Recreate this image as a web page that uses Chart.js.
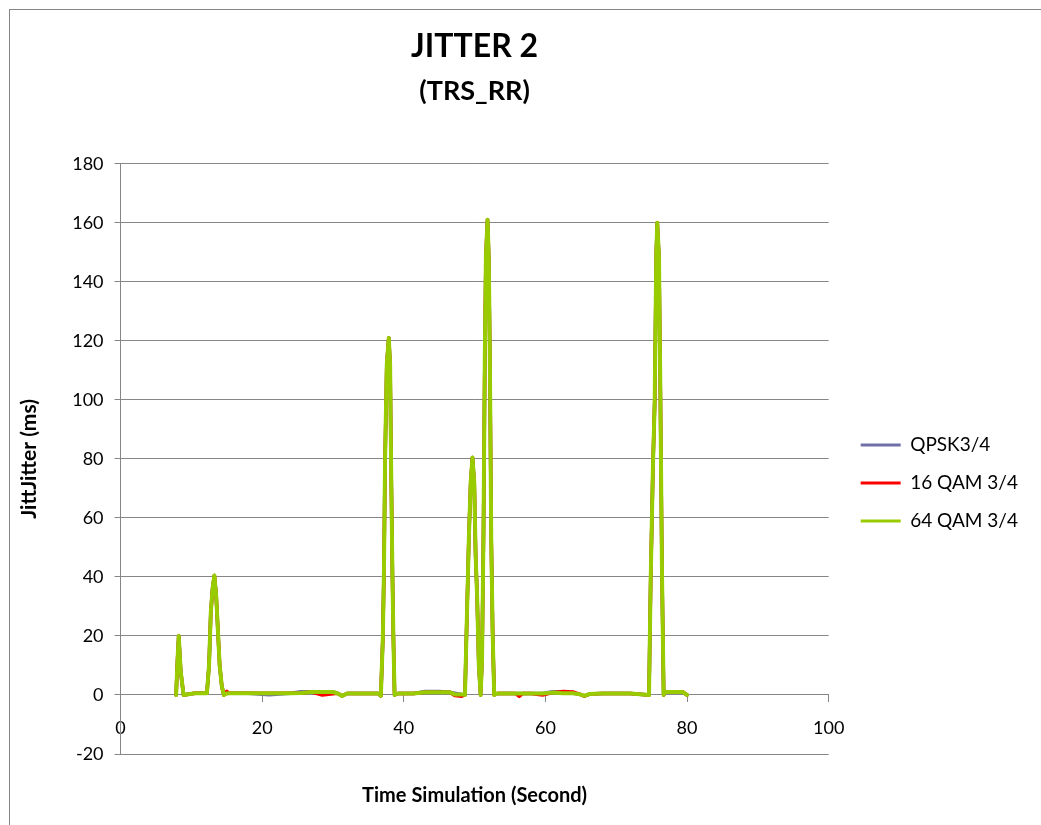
<!DOCTYPE html>
<html><head><meta charset="utf-8">
<script src="https://cdn.jsdelivr.net/npm/chart.js@4.4.0/dist/chart.umd.min.js"></script>
<style>
html,body{margin:0;padding:0;background:#fff;overflow:hidden;width:1041px;height:825px;}
#frame{position:absolute;left:9px;top:9px;width:1100px;height:900px;border:1px solid #858585;box-sizing:border-box;}
#c{position:absolute;left:0;top:0;}
</style></head><body>
<div id="frame"></div>
<canvas id="c" width="1041" height="825"></canvas>
<script>
const titleText = 'JITTER 2';
const subtitleText = '(TRS_RR)';
const xTitle = 'Time Simulation (Second)';
const yTitle = 'JittJitter (ms)';
const seriesNames = ['QPSK3/4', '16 QAM 3/4', '64 QAM 3/4'];
const seriesColors = ['#6f70a6', '#ff0000', '#99cc00'];

const xTickValues = [0, 20, 40, 60, 80, 100];
const yTickValues = [-20, 0, 20, 40, 60, 80, 100, 120, 140, 160, 180];

const times = [7.85, 8.05, 8.22, 8.5, 8.9, 10.5, 12.2, 12.5, 12.75, 13.0,
  13.25, 13.5, 13.75, 14.0, 14.3, 14.6, 15.0, 15.4, 18, 21,
  24, 25.5, 27, 28.5, 30, 30.6, 31.3, 32, 34, 36.4,
  36.76, 37.04, 37.2, 37.36, 37.6, 37.88, 38.07, 38.2, 38.39, 38.53,
  38.7, 39.2, 41.4, 43, 45, 46.5, 47.2, 48.2, 48.64, 48.95,
  49.2, 49.45, 49.7, 49.95, 50.15, 50.35, 50.6, 50.85, 51.05, 51.25,
  51.45, 51.6, 51.83, 52.0, 52.15, 52.35, 52.55, 52.77, 53.2, 55.8,
  56.3, 56.8, 58, 59.6, 61, 62.5, 63.9, 64.9, 65.5, 66.2,
  68, 72, 74.63, 74.86, 75.19, 75.43, 75.66, 75.8, 76.04, 76.23,
  76.46, 76.7, 76.9, 79.4, 80.0];

const qpsk = [0, 12, 20, 8, 0, 0.6, 0.6, 10, 28, 36,
  40.5, 34, 22, 10, 3, 0, 1.0, 0.6, 0.6, 0.1,
  0.6, 1.1, 1.1, 1.0, 1.0, 0.6, -0.3, 0.5, 0.5, 0.5,
  -0.3, 19, 42, 80, 112, 121, 112, 80, 42, 20,
  0, 0.5, 0.5, 1.2, 1.2, 0.9, 0.6, 0.2, 0, 30,
  54, 72, 80.5, 72, 47, 34, 10, 0, 12, 53,
  116, 149, 161, 148, 116, 53, 21, 0, 0.5, 0.5,
  0.5, 0.5, 0.5, 0.5, 1.1, 1.1, 0.6, 0.2, -0.3, 0.3,
  0.5, 0.5, 0, 38, 78, 99, 150, 160, 148, 103,
  42, 0, 1, 1, 0];

const qam16 = [0, 12, 20, 8, 0, 0.6, 0.6, 10, 28, 36,
  40.5, 34, 22, 10, 3, 0, 1.2, 0.6, 0.6, 0.6,
  0.6, 0.7, 1.0, 0.0, 0.4, 0.6, -0.3, 0.5, 0.5, 0.5,
  -0.3, 19, 42, 80, 112, 121, 112, 80, 42, 20,
  0, 0.5, 0.5, 0.9, 0.9, 0.9, -0.2, -0.4, 0, 30,
  54, 72, 80.5, 72, 47, 34, 10, 0, 12, 53,
  116, 149, 161, 148, 116, 53, 21, 0, 0.5, 0.5,
  -0.5, 0.5, 0.5, 0.0, 0.8, 1.2, 1.0, 0.2, -0.4, 0.3,
  0.5, 0.5, 0, 38, 78, 99, 150, 160, 148, 103,
  42, 0, 1, 1, 0];

const qam64 = [0, 12, 20, 8, 0, 0.6, 0.6, 10, 28, 36,
  40.5, 34, 22, 10, 3, 0, 0.5, 0.6, 0.6, 0.6,
  0.6, 0.7, 1.0, 1.0, 1.0, 0.6, -0.3, 0.5, 0.5, 0.5,
  -0.3, 19, 42, 80, 112, 121, 112, 80, 42, 20,
  0, 0.5, 0.5, 0.9, 0.9, 0.9, 0.2, 0.2, 0, 30,
  54, 72, 80.5, 72, 47, 34, 10, 0, 12, 53,
  116, 149, 161, 148, 116, 53, 21, 0, 0.5, 0.5,
  0.5, 0.5, 0.5, 0.5, 0.8, 0.6, 0.6, 0.2, -0.3, 0.3,
  0.5, 0.5, 0, 38, 78, 99, 150, 160, 148, 103,
  42, 0, 1, 1, 0];

const seriesValues = [qpsk, qam16, qam64];
const lineWidths = [3.5, 3.5, 4];
const legendLineWidth = 3;
const drawOrder = [2, 1, 0];

Chart.defaults.font.family = 'Lato, "Open Sans", sans-serif';
Chart.defaults.color = '#000';

const gridColor = '#868686';

// widen the legend box a little so its labels are not clipped
const legendWiden = {
  id: 'legendWiden',
  beforeLayout(chart) {
    const lg = chart.legend;
    if (lg && !lg._widened) {
      const origFit = lg.fit.bind(lg);
      lg.fit = function () { origFit(); this.width += 10; };
      lg._widened = true;
    }
  }
};

function build() {
  const datasets = seriesNames.map((name, i) => ({
    label: name,
    data: times.map((t, k) => ({x: t, y: seriesValues[i][k]})),
    borderColor: seriesColors[i],
    backgroundColor: seriesColors[i],
    borderWidth: lineWidths[i],
    pointRadius: 0,
    pointHoverRadius: 0,
    tension: 0,
    fill: false,
    borderJoinStyle: 'round',
    borderCapStyle: 'round',
    order: drawOrder[i]
  }));

  new Chart(document.getElementById('c'), {
    type: 'line',
    data: { datasets },
    plugins: [legendWiden],
    options: {
      responsive: false,
      animation: false,
      events: [],
      layout: { padding: { left: 10, right: 21, top: 0, bottom: 71 } },
      plugins: {
        title: {
          display: true, text: titleText, fullSize: false,
          font: { size: 32, weight: 'bold' }, color: '#000',
          padding: { top: 27, bottom: 0 }
        },
        subtitle: {
          display: true, text: subtitleText, fullSize: false,
          font: { size: 27, weight: 'bold' }, color: '#000',
          padding: { top: 10, bottom: 56 }
        },
        legend: {
          position: 'right', fullSize: false, align: 'center',
          title: { display: true, text: ' ', font: { size: 10 }, padding: { top: 36, bottom: 0 } },
          labels: {
            usePointStyle: true, pointStyle: 'line', pointStyleWidth: 40,
            padding: 19, font: { size: 19 }, color: '#000',
            sort: (a, b) => a.datasetIndex - b.datasetIndex,
            generateLabels: chart => Chart.defaults.plugins.legend.labels.generateLabels(chart)
              .map(item => Object.assign(item, { lineWidth: legendLineWidth }))
          }
        },
        tooltip: { enabled: false }
      },
      scales: {
        x: {
          type: 'linear', min: 0, max: 100,
          position: { y: 0 },
          afterBuildTicks: axis => { axis.ticks = xTickValues.map(v => ({ value: v })); },
          grid: { display: true, drawOnChartArea: false, drawTicks: true, tickLength: 7, color: gridColor },
          border: { display: true, color: gridColor, width: 1 },
          ticks: { font: { size: 18 }, color: '#000', padding: 15, maxRotation: 0 },
          title: { display: true, text: xTitle, font: { size: 20, weight: 'bold' }, color: '#000', padding: { top: 30, bottom: 0 } }
        },
        y: {
          type: 'linear', min: -20, max: 180,
          position: 'left',
          afterBuildTicks: axis => { axis.ticks = yTickValues.map(v => ({ value: v })); },
          grid: { display: true, drawOnChartArea: true, drawTicks: true, tickLength: 6, color: gridColor },
          border: { display: true, color: gridColor, width: 1 },
          ticks: { font: { size: 18 }, color: '#000', padding: 11 },
          title: { display: true, text: yTitle, font: { size: 21, weight: 'bold' }, color: '#000', padding: { top: 7, bottom: 19 } }
        },
        spacer: {
          type: 'linear', position: 'right', display: true,
          grid: { display: false, drawTicks: false }, border: { display: false },
          ticks: { display: false },
          afterFit: s => { s.width = 13; }
        }
      }
    }
  });
}

const fontLoads = ['19px Lato', '18px Lato', 'bold 20px Lato', 'bold 32px Lato'].map(f => document.fonts.load(f));
Promise.all(fontLoads).then(build, build);
</script>
</body></html>
